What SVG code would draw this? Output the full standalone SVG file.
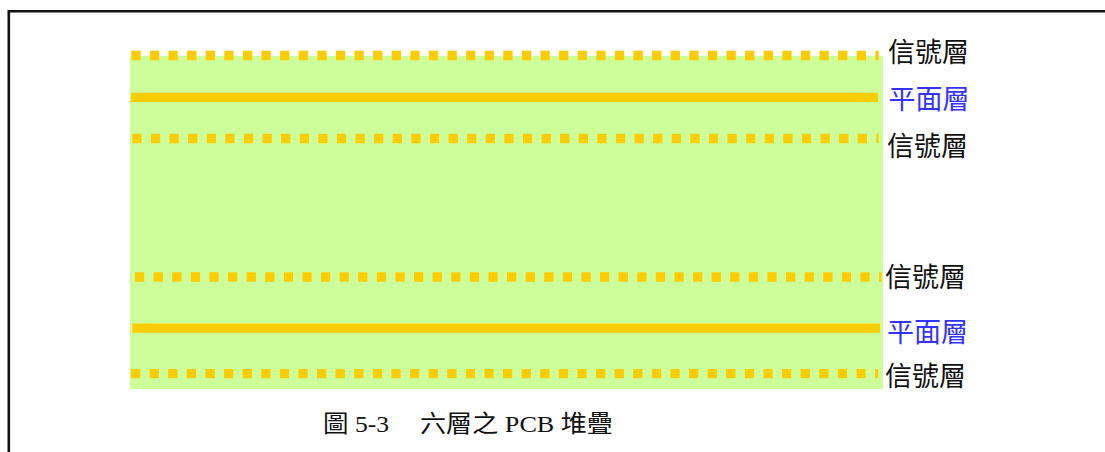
<svg xmlns="http://www.w3.org/2000/svg" width="1105" height="452" viewBox="0 0 1105 452">
<style>
.sig{stroke:#ffcc00;stroke-width:9.3;stroke-dasharray:9.3 9.3;fill:none}
.pln{stroke:#ffcc00;stroke-width:9.3;fill:none}
.lbl{font-family:"Noto Sans CJK TC","Noto Sans CJK SC",sans-serif;font-size:27px}
.blk{fill:#111111}
.blu{fill:#3333ff}
.cap{font-family:"Liberation Serif","Noto Sans CJK TC",serif;font-size:24px;fill:#111111}
</style>
<rect width="1105" height="452" fill="#ffffff"/>
<path d="M8.8,452 V11.3 H1105" fill="none" stroke="#111111" stroke-width="2.6"/>
<g id="board">
<rect x="130" y="56" width="753" height="333" fill="#ccff99"/>
</g>
<g id="connectors">
<line class="sig" x1="131.3" y1="55.5" x2="878.7" y2="55.5"/>
<line class="pln" x1="131" y1="97.3" x2="878" y2="97.3"/>
<line class="sig" x1="132.3" y1="138.5" x2="878.7" y2="138.5"/>
<line class="sig" x1="135" y1="277" x2="881.7" y2="277"/>
<line class="pln" x1="132.3" y1="328.2" x2="880" y2="328.2"/>
<line class="sig" x1="131" y1="373.7" x2="878.3" y2="373.7"/>
</g>
<g id="label-sig1"><text class="lbl blk" x="888" y="62">信號層</text></g>
<g id="label-pln1"><text class="lbl blu" x="888.5" y="109">平面層</text></g>
<g id="label-sig2"><text class="lbl blk" x="887" y="156">信號層</text></g>
<g id="label-sig3"><text class="lbl blk" x="885" y="287">信號層</text></g>
<g id="label-pln2"><text class="lbl blu" x="887" y="342">平面層</text></g>
<g id="label-sig4"><text class="lbl blk" x="885" y="386">信號層</text></g>
<g id="caption">
<text class="cap" x="323" y="432" textLength="66" lengthAdjust="spacingAndGlyphs">圖 5-3</text>
<text class="cap" x="420" y="432" textLength="193" lengthAdjust="spacingAndGlyphs">六層之 PCB 堆疊</text>
</g>
</svg>
